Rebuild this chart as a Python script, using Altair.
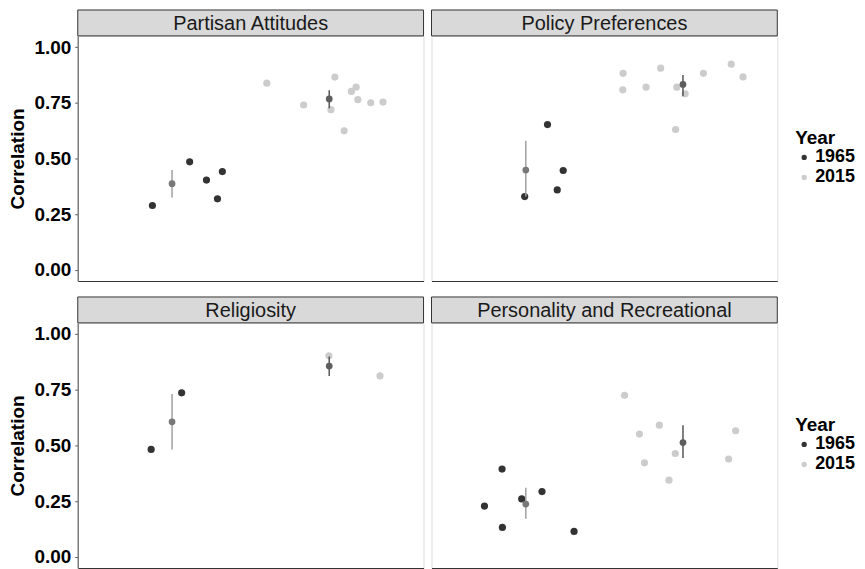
import altair as alt
import pandas as pd

FONT = "Liberation Sans"
W, H, STRIP = 347, 246, 26

PANELS = ["Partisan Attitudes", "Policy Preferences", "Religiosity", "Personality and Recreational"]

# jittered positions (1 = 1965, 2 = 2015) and correlations
X65 = [
    [0.875, 1.112, 1.219, 1.289, 1.320],
    [1.138, 1.238, 1.200, 0.993],
    [0.867, 1.061],
    [0.849, 0.737, 0.851, 0.974, 1.103, 1.307],
]
Y65 = [
    [0.289, 0.485, 0.403, 0.319, 0.441],
    [0.652, 0.446, 0.359, 0.329],
    [0.482, 0.736],
    [0.394, 0.228, 0.132, 0.260, 0.293, 0.114],
]
X15 = [
    [1.603, 1.837, 2.011, 2.036, 2.095, 2.141, 2.171, 2.182, 2.264, 2.342],
    [1.619, 1.617, 1.765, 1.858, 1.961, 2.014, 1.953, 2.130, 2.307, 2.382],
    [1.998, 2.323],
    [1.628, 1.850, 1.723, 1.951, 1.755, 1.911, 2.335, 2.290],
]
Y15 = [
    [0.838, 0.740, 0.719, 0.865, 0.624, 0.801, 0.820, 0.764, 0.750, 0.753],
    [0.882, 0.808, 0.820, 0.905, 0.820, 0.790, 0.630, 0.882, 0.923, 0.866],
    [0.902, 0.812],
    [0.725, 0.591, 0.551, 0.464, 0.422, 0.344, 0.566, 0.439],
]
# group means with interval ends: [1965, 2015]
MEAN = [[0.387, 0.767], [0.448, 0.832], [0.606, 0.856], [0.237, 0.513]]
LO = [[0.325, 0.725], [0.329, 0.779], [0.482, 0.812], [0.171, 0.444]]
HI = [[0.448, 0.806], [0.579, 0.875], [0.731, 0.899], [0.310, 0.591]]
YEARS = ["1965", "2015"]
MEAN_X = [1, 2]


def panel(i, show_y, show_legend):
    name = PANELS[i]
    pts = pd.DataFrame({
        "x": X65[i] + X15[i],
        "y": Y65[i] + Y15[i],
        "Year": ["1965"] * len(X65[i]) + ["2015"] * len(X15[i]),
    })
    means = pd.DataFrame({"x": MEAN_X, "y": MEAN[i], "lo": LO[i], "hi": HI[i], "Year": YEARS})

    xs = alt.Scale(domain=[0.4, 2.6], nice=False, zero=False)
    ys = alt.Scale(domain=[-0.05, 1.05], nice=False, zero=False)
    xaxis = alt.Axis(labels=False, ticks=False, title=None, grid=False,
                     domainColor="#333333", domainWidth=1.2)
    if show_y:
        yaxis = alt.Axis(values=[0, 0.25, 0.5, 0.75, 1.0], format=".2f", title="Correlation",
                         grid=False, domainColor="#7f7f7f", domainWidth=1.5,
                         tickColor="#555555", tickSize=3, labelPadding=4,
                         labelFont=FONT, labelFontSize=19, labelFontWeight="bold", labelColor="#000000",
                         titleFont=FONT, titleFontSize=19, titleFontWeight="bold", titleColor="#000000",
                         titlePadding=6)
    else:
        yaxis = None

    if show_legend:
        leg = alt.Legend(title="Year", orient="none", legendX=365, legendY=93,
                         symbolType="circle", symbolSize=28, symbolStrokeWidth=0,
                         titleFont=FONT, titleFontSize=19, titleFontWeight="bold", titleColor="#000000",
                         labelFont=FONT, labelFontSize=18, labelFontWeight="bold", labelColor="#000000",
                         rowPadding=2, titlePadding=1, labelOffset=2, padding=0)
    else:
        leg = None

    strip = alt.Chart(pd.DataFrame({"panel": [name]})).mark_rect(
        fill="#d9d9d9", stroke="#333333", strokeWidth=1
    ).encode(x=alt.value(0), x2=alt.value(W), y=alt.value(-STRIP), y2=alt.value(0))
    strip_text = alt.Chart(pd.DataFrame({"panel": [name]})).mark_text(
        font=FONT, fontSize=20, color="#1a1a1a", align="center", baseline="middle"
    ).encode(x=alt.value(W / 2), y=alt.value(-STRIP / 2 + 1), text="panel:N")

    points = alt.Chart(pts).mark_circle(size=52, opacity=1).encode(
        x=alt.X("x:Q", scale=xs, axis=xaxis),
        y=alt.Y("y:Q", scale=ys, axis=yaxis),
        color=alt.Color("Year:N", scale=alt.Scale(domain=YEARS, range=["#333333", "#cccccc"]), legend=leg),
    )
    rules = alt.Chart(means).mark_rule(strokeWidth=1.5).encode(
        x=alt.X("x:Q", scale=xs, axis=xaxis),
        y=alt.Y("lo:Q", scale=ys, axis=yaxis),
        y2="hi:Q",
        color=alt.condition(alt.datum.Year == "1965", alt.value("#a0a0a0"), alt.value("#555555")),
    )
    mpts = alt.Chart(means).mark_circle(size=46, opacity=1).encode(
        x=alt.X("x:Q", scale=xs, axis=xaxis),
        y=alt.Y("y:Q", scale=ys, axis=yaxis),
        color=alt.condition(alt.datum.Year == "1965", alt.value("#787878"), alt.value("#5e5e5e")),
    )
    return alt.layer(strip, strip_text, points, rules, mpts).properties(width=W, height=H)


row1 = alt.hconcat(panel(0, True, False), panel(1, False, True), spacing=6).resolve_scale(color="independent")
row2 = alt.hconcat(panel(2, True, False), panel(3, False, True), spacing=6).resolve_scale(color="independent")

chart = alt.vconcat(row1, row2, spacing=14).resolve_scale(color="independent").properties(
    padding=0
).configure_view(stroke=None).configure(font=FONT)

chart.save("out.html", embed_options={"renderer": "svg", "actions": False})
